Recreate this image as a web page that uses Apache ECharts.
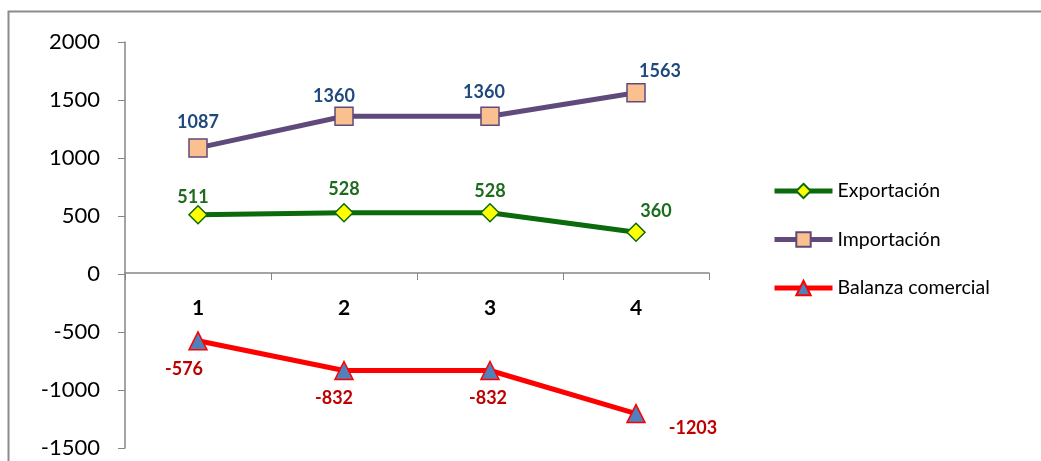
<!DOCTYPE html>
<html>
<head>
<meta charset="utf-8">
<script src="https://cdn.jsdelivr.net/npm/echarts@6/dist/echarts.min.js"></script>
<style>
  html, body { margin: 0; padding: 0; background: #fff; }
  #chart { width: 1041px; height: 461px; }
</style>
</head>
<body>
<div id="chart"></div>
<script>
const categories = ['1', '2', '3', '4']
const exportacion = [511, 528, 528, 360]
const importacion = [1087, 1360, 1360, 1563]
const balanza = [-576, -832, -832, -1203]

const font = 'Lato, "Open Sans", sans-serif'

// label offsets per point [dx, dy]
const expOffsets = [[-5, 8], [0, 2], [0, 4], [20, 5]]
const impOffsets = [[0, 0], [-10, 6], [-6, 2], [24, 4]]
const balOffsets = [[-14, 28], [-10, 28], [-2, 28], [57, 15]]

function withLabels(values, offsets, position) {
  return values.map((v, i) => ({
    value: v,
    label: { position: position, offset: offsets[i] }
  }))
}

const chart = echarts.init(document.getElementById('chart'))
chart.setOption({
  animation: false,
  textStyle: { fontFamily: font },
  graphic: [{
    type: 'rect',
    shape: { x: 8.5, y: 11.5, width: 1100, height: 500 },
    style: { fill: null, stroke: '#8c8c8c', lineWidth: 2 },
    silent: true
  }],
  grid: { left: 125, right: 332, top: 42, bottom: 13, outerBoundsMode: 'none', containLabel: false },
  legend: {
    orient: 'vertical',
    left: 767,
    top: 176,
    itemGap: 28.5,
    itemWidth: 58,
    itemHeight: 18,
    lineStyle: { width: 5 },
    textStyle: { fontSize: 19.5, color: '#000', fontFamily: font },
    data: ['Exportación', 'Importación', 'Balanza comercial']
  },
  xAxis: {
    type: 'category',
    data: categories,
    position: 'bottom',
    offset: -175,
    axisLine: { onZero: false, lineStyle: { color: '#868686', width: 1.5 } },
    axisTick: { show: true, inside: false, length: 7, lineStyle: { color: '#868686' } },
    axisLabel: { fontSize: 21, fontWeight: 'bold', color: '#000', margin: 25 },
    splitLine: { show: false }
  },
  yAxis: {
    type: 'value',
    min: -1500,
    max: 2000,
    interval: 500,
    axisLine: { show: true, lineStyle: { color: '#868686', width: 1.5 } },
    axisTick: { show: true, length: 7, lineStyle: { color: '#868686' } },
    axisLabel: { fontSize: 22, color: '#000', margin: 25, formatter: v => String(v) },
    splitLine: { show: false }
  },
  series: [
    {
      name: 'Exportación',
      type: 'line',
      data: withLabels(exportacion, expOffsets, 'top'),
      symbol: 'diamond',
      symbolSize: 18,
      lineStyle: { color: '#0b6a0b', width: 5 },
      itemStyle: { color: '#ffff00', borderColor: '#0b6a0b', borderWidth: 1.5 },
      label: { show: true, fontSize: 18, fontWeight: 'bold', color: '#1d6b1d', distance: 7 }
    },
    {
      name: 'Importación',
      type: 'line',
      data: withLabels(importacion, impOffsets, 'top'),
      symbol: 'rect',
      symbolSize: 18,
      lineStyle: { color: '#604a7b', width: 5 },
      itemStyle: { color: '#fac090', borderColor: '#604a7b', borderWidth: 1.5 },
      label: { show: true, fontSize: 18, fontWeight: 'bold', color: '#1f497d', distance: 7 }
    },
    {
      name: 'Balanza comercial',
      type: 'line',
      data: withLabels(balanza, balOffsets, 'inside'),
      symbol: 'triangle',
      symbolSize: 18,
      lineStyle: { color: '#ff0000', width: 5 },
      itemStyle: { color: '#4f81bd', borderColor: '#ff0000', borderWidth: 1.5 },
      label: { show: true, fontSize: 18, fontWeight: 'bold', color: '#c00000' }
    }
  ]
})
</script>
</body>
</html>
